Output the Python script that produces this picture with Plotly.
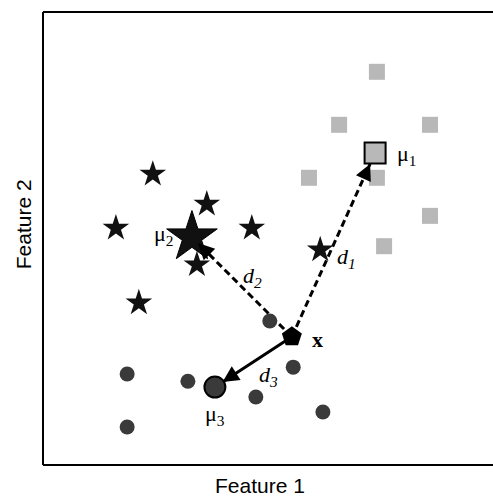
import plotly.graph_objects as go

# Cluster members (Feature 1, Feature 2)
square_x = [7.42, 6.58, 8.60, 5.91, 7.42, 8.60, 7.58]
square_y = [8.68, 7.51, 7.51, 6.34, 6.34, 5.50, 4.83]
star_x = [2.44, 3.64, 1.62, 4.64, 3.42, 6.16, 2.13]
star_y = [6.42, 5.76, 5.23, 5.23, 4.42, 4.75, 3.58]
circle_x = [5.04, 5.56, 1.87, 3.22, 4.73, 6.22, 1.87]
circle_y = [3.18, 2.16, 2.01, 1.85, 1.50, 1.17, 0.84]

# Centroids mu1, mu2, mu3
centroid_x = [7.38, 3.31, 3.82]
centroid_y = [6.89, 5.03, 1.72]

# Query point x
query_x = [5.53]
query_y = [2.83]

SERIF = "Liberation Serif"
SANS = "Liberation Sans"
GRAY = "#b8b8b8"
DARK = "#3a3a3a"

fig = go.Figure()

# distance lines from x to each centroid (drawn first, under markers)
dist_styles = ["7px,4px", "7px,4px", "solid"]
for k in range(3):
    fx, fy = query_x[0], query_y[0]
    tx, ty = centroid_x[k], centroid_y[k]
    # stop short of the centroid so the arrow tip sits at its edge
    frac = 0.94 if k != 2 else 0.9
    ex, ey = fx + (tx - fx) * frac, fy + (ty - fy) * frac
    fig.add_trace(go.Scatter(x=[fx, ex], y=[fy, ey], mode="lines",
                             line=dict(color="black", width=3, dash=dist_styles[k]),
                             hoverinfo="skip", showlegend=False))
    hx, hy = fx + (tx - fx) * (frac - 0.08), fy + (ty - fy) * (frac - 0.08)
    fig.add_annotation(x=ex, y=ey, ax=hx, ay=hy, xref="x", yref="y",
                       axref="x", ayref="y", showarrow=True, text="",
                       arrowhead=2, arrowsize=1.3, arrowwidth=2.5, arrowcolor="black")

fig.add_trace(go.Scatter(x=square_x, y=square_y, mode="markers",
                         marker=dict(symbol="square", size=16, color=GRAY),
                         hoverinfo="skip", showlegend=False))
fig.add_trace(go.Scatter(x=star_x, y=star_y, mode="markers",
                         marker=dict(symbol="star", size=20, color="#111111"),
                         hoverinfo="skip", showlegend=False))
fig.add_trace(go.Scatter(x=circle_x, y=circle_y, mode="markers",
                         marker=dict(symbol="circle", size=15, color=DARK),
                         hoverinfo="skip", showlegend=False))

# centroids
fig.add_trace(go.Scatter(x=[centroid_x[0]], y=[centroid_y[0]], mode="markers",
                         marker=dict(symbol="square", size=21, color=GRAY,
                                     line=dict(color="black", width=2)),
                         hoverinfo="skip", showlegend=False))
fig.add_trace(go.Scatter(x=[centroid_x[1]], y=[centroid_y[1]], mode="markers",
                         marker=dict(symbol="star", size=38, color="#111111",
                                     line=dict(color="black", width=1)),
                         hoverinfo="skip", showlegend=False))
fig.add_trace(go.Scatter(x=[centroid_x[2]], y=[centroid_y[2]], mode="markers",
                         marker=dict(symbol="circle", size=21, color=DARK,
                                     line=dict(color="black", width=2)),
                         hoverinfo="skip", showlegend=False))

# query point
fig.add_trace(go.Scatter(x=query_x, y=query_y, mode="markers",
                         marker=dict(symbol="pentagon", size=21, color="black"),
                         hoverinfo="skip", showlegend=False))

# text labels
labels = [
    (centroid_x[0] + 0.44, centroid_y[0] - 0.05, "μ<sub>1</sub>", "left"),
    (centroid_x[1] - 0.35, centroid_y[1] + 0.05, "μ<sub>2</sub>", "right"),
    (centroid_x[2], centroid_y[2] - 0.62, "μ<sub>3</sub>", "center"),
    (query_x[0] + 0.58, query_y[0] - 0.05, "<b>x</b>", "center"),
    (6.75, 4.58, "<i>d</i><sub><i>1</i></sub>", "center"),
    (4.65, 4.15, "<i>d</i><sub><i>2</i></sub>", "center"),
    (5.0, 1.97, "<i>d</i><sub><i>3</i></sub>", "center"),
]
for lx, ly, txt, al in labels:
    fig.add_annotation(x=lx, y=ly, xref="x", yref="y", text=txt, showarrow=False,
                       xanchor=al, yanchor="middle",
                       font=dict(family=SERIF, size=22, color="black"))

# axis titles
fig.add_annotation(x=0.483, y=-0.046, xref="paper", yref="paper", text="Feature 1",
                   showarrow=False, xanchor="center", yanchor="middle",
                   font=dict(family=SANS, size=21, color="black"))
fig.add_annotation(x=-0.044, y=0.532, xref="paper", yref="paper", text="Feature 2",
                   showarrow=False, xanchor="center", yanchor="middle", textangle=-90,
                   font=dict(family=SANS, size=21, color="black"))

# frame: left, top and bottom edges
for x0, y0, x1, y1 in [(0, 0, 0, 1), (0, 1, 1, 1), (0, 0, 1, 0)]:
    fig.add_shape(type="line", xref="paper", yref="paper", x0=x0, y0=y0, x1=x1, y1=y1,
                  line=dict(color="black", width=2))

fig.update_xaxes(range=[0, 10], showgrid=False, zeroline=False, showticklabels=False,
                 ticks="", showline=False)
fig.update_yaxes(range=[0, 10], showgrid=False, zeroline=False, showticklabels=False,
                 ticks="", showline=False)

fig.update_layout(width=493, height=499, margin=dict(l=43, r=0, t=12, b=34),
                  plot_bgcolor="white", paper_bgcolor="white")

fig.write_html("out.html")
